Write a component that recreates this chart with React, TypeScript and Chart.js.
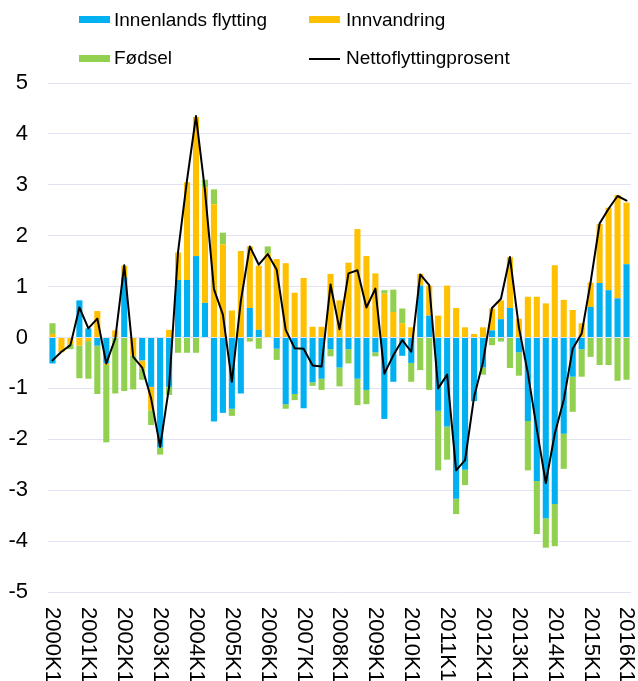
import React, { useEffect, useRef } from "react";
import { Chart, registerables } from "chart.js";

Chart.register(...registerables);

const categories = [
  "2000K1","2000K2","2000K3","2000K4","2001K1","2001K2","2001K3","2001K4",
  "2002K1","2002K2","2002K3","2002K4","2003K1","2003K2","2003K3","2003K4",
  "2004K1","2004K2","2004K3","2004K4","2005K1","2005K2","2005K3","2005K4",
  "2006K1","2006K2","2006K3","2006K4","2007K1","2007K2","2007K3","2007K4",
  "2008K1","2008K2","2008K3","2008K4","2009K1","2009K2","2009K3","2009K4",
  "2010K1","2010K2","2010K3","2010K4","2011K1","2011K2","2011K3","2011K4",
  "2012K1","2012K2","2012K3","2012K4","2013K1","2013K2","2013K3","2013K4",
  "2014K1","2014K2","2014K3","2014K4","2015K1","2015K2","2015K3","2015K4",
  "2016K1",
];

const innenlands = [
  -0.51, 0, 0, 0.73, 0.18, -0.16, -0.51, 0, 1.18, 0, -0.45, -0.97, -2.16, -0.97, 1.13, 1.13,
  1.6, 0.68, -1.65, -1.48, -1.4, -1.1, 0.58, 0.15, 0, -0.22, -1.31, -1.11, -1.39, -0.88, -0.81, -0.23,
  -0.59, -0.23, -0.81, -1.03, -0.29, -1.6, -0.87, -0.36, -0.5, 1.02, 0.43, -1.44, -1.75, -3.17, -2.6, -1.25,
  -0.59, 0.14, 0.36, 0.58, -0.29, -1.64, -2.82, -3.55, -3.27, -1.89, -0.77, -0.23, 0.6, 1.07, 0.93, 0.77,
  1.44,
];

const innvandring = [
  0.07, -0.29, -0.13, -0.16, -0.07, 0.52, -0.03, 0.14, 0.23, -0.36, -0.16, -0.46, 0, 0.15, 0.54, 1.92,
  2.73, 2.27, 2.62, 1.83, 0.53, 1.7, 1.21, 1.26, 1.65, 1.54, 1.46, 0.88, 1.17, 0.21, 0.21, 1.25,
  0.73, 1.47, 2.13, 1.6, 1.26, 0.86, 0.5, 0.28, 0.2, 0.23, 0.59, 0.43, 1.02, 0.58, 0.2, 0.07,
  0.2, 0.43, 0.37, 1.0, 0.37, 0.8, 0.8, 0.67, 1.42, 0.74, 0.54, 0.28, 0.48, 1.16, 1.62, 2.03,
  1.21,
];

const fodsel = [
  0.21, 0, -0.1, -0.64, -0.74, -0.95, -1.52, -1.1, -1.05, -0.66, -0.22, -0.29, -0.14, -0.16, -0.3, -0.3,
  -0.3, 0.15, 0.29, 0.23, -0.14, 0, -0.08, -0.22, 0.14, -0.22, -0.09, -0.12, 0, -0.07, -0.22, -0.14,
  -0.37, -0.28, -0.52, -0.28, -0.08, 0.07, 0.44, 0.29, -0.37, -0.64, -1.03, -1.17, -0.65, -0.3, -0.3, 0,
  -0.14, -0.15, -0.08, -0.6, -0.46, -0.97, -1.04, -0.58, -0.83, -0.69, -0.69, -0.54, -0.38, -0.54, -0.54, -0.85,
  -0.83,
];

const nettoflytting = [
  -0.45, -0.28, -0.15, 0.59, 0.18, 0.37, -0.51, -0.02, 1.42, -0.38, -0.59, -1.2, -2.15, -0.97, 1.68, 3.09,
  4.35, 2.89, 0.95, 0.45, -0.87, 0.72, 1.79, 1.43, 1.64, 1.33, 0.15, -0.21, -0.22, -0.55, -0.57, 1.04,
  0.16, 1.26, 1.32, 0.59, 0.96, -0.71, -0.35, -0.05, -0.28, 1.24, 1.03, -1.0, -0.73, -2.61, -2.41, -1.17,
  -0.48, 0.58, 0.76, 1.58, 0.2, -0.7, -1.8, -2.86, -1.89, -1.23, -0.22, 0.08, 1.09, 2.24, 2.53, 2.78,
  2.69,
];

const seriesNames = ["Innenlands flytting", "Innvandring", "Fødsel", "Nettoflyttingprosent"];
const BLUE = "#00B0F0";
const GOLD = "#FFC000";
const GREEN = "#92D050";
const FONT = '"Liberation Sans", Arial, Helvetica, sans-serif';

const xLabelPlugin = {
  id: "xLabels",
  afterDraw(chart: any) {
    const ctx = chart.ctx;
    const xs = chart.scales.x;
    const top = chart.chartArea.bottom + 15;
    ctx.save();
    ctx.font = `22px ${FONT}`;
    ctx.fillStyle = "#000";
    ctx.textAlign = "left";
    ctx.textBaseline = "middle";
    categories.forEach((lab, i) => {
      if (!lab.endsWith("K1")) return;
      const x = xs.getPixelForValue(i);
      ctx.save();
      ctx.translate(x, top);
      ctx.rotate(Math.PI / 2);
      ctx.fillText(lab, 0, 0);
      ctx.restore();
    });
    ctx.restore();
  },
};

export default function App() {
  const canvasRef = useRef<HTMLCanvasElement | null>(null);

  useEffect(() => {
    if (!canvasRef.current) return;
    const barCommon = {
      type: "bar" as const,
      stack: "bars",
      order: 1,
      categoryPercentage: 1,
      barPercentage: 0.68,
      borderWidth: 0,
    };
    const chart = new Chart(canvasRef.current, {
      type: "bar",
      data: {
        labels: categories,
        datasets: [
          { ...barCommon, label: seriesNames[0], data: innenlands, backgroundColor: BLUE },
          { ...barCommon, label: seriesNames[1], data: innvandring, backgroundColor: GOLD },
          { ...barCommon, label: seriesNames[2], data: fodsel, backgroundColor: GREEN },
          {
            type: "line",
            label: seriesNames[3],
            data: nettoflytting,
            borderColor: "#000",
            borderWidth: 2,
            borderJoinStyle: "round",
            borderCapStyle: "round",
            pointRadius: 0,
            tension: 0,
            fill: false,
            stack: "line",
            order: 0,
          } as any,
        ],
      },
      plugins: [xLabelPlugin],
      options: {
        animation: false,
        responsive: false,
        layout: { padding: { left: 0, right: 7, top: 83, bottom: 89 } },
        plugins: { legend: { display: false }, tooltip: { enabled: false } },
        scales: {
          x: { display: false, stacked: true },
          y: {
            stacked: true,
            min: -5,
            max: 5,
            border: { display: false },
            grid: { color: "#E2E2F5", drawTicks: false, lineWidth: 1 },
            ticks: {
              stepSize: 1,
              padding: 20,
              color: "#000",
              font: { size: 22, family: FONT },
            },
            afterFit: (s: any) => {
              s.width = 48;
            },
          },
        },
      },
    } as any);
    return () => chart.destroy();
  }, []);

  const textStyle: React.CSSProperties = {
    position: "absolute",
    fontFamily: FONT,
    fontSize: 19,
    lineHeight: "22px",
    color: "#000",
    whiteSpace: "nowrap",
  };
  const sw = (left: number, top: number, color: string, h = 7): React.CSSProperties => ({
    position: "absolute",
    left,
    top,
    width: 31,
    height: h,
    background: color,
  });

  return (
    <div style={{ position: "absolute", left: 0, top: 0, width: 638, height: 681, background: "#fff", overflow: "hidden" }}>
      <canvas ref={canvasRef} width={638} height={681} style={{ position: "absolute", left: 0, top: 0 }} />
      <div style={sw(79, 16, BLUE)} />
      <div style={{ ...textStyle, left: 114, top: 9 }}>{seriesNames[0]}</div>
      <div style={sw(309, 16, GOLD)} />
      <div style={{ ...textStyle, left: 346, top: 9 }}>{seriesNames[1]}</div>
      <div style={sw(79, 55, GREEN)} />
      <div style={{ ...textStyle, left: 114, top: 47 }}>{seriesNames[2]}</div>
      <div style={sw(309, 57.5, "#000", 2)} />
      <div style={{ ...textStyle, left: 346, top: 47 }}>{seriesNames[3]}</div>
    </div>
  );
}
